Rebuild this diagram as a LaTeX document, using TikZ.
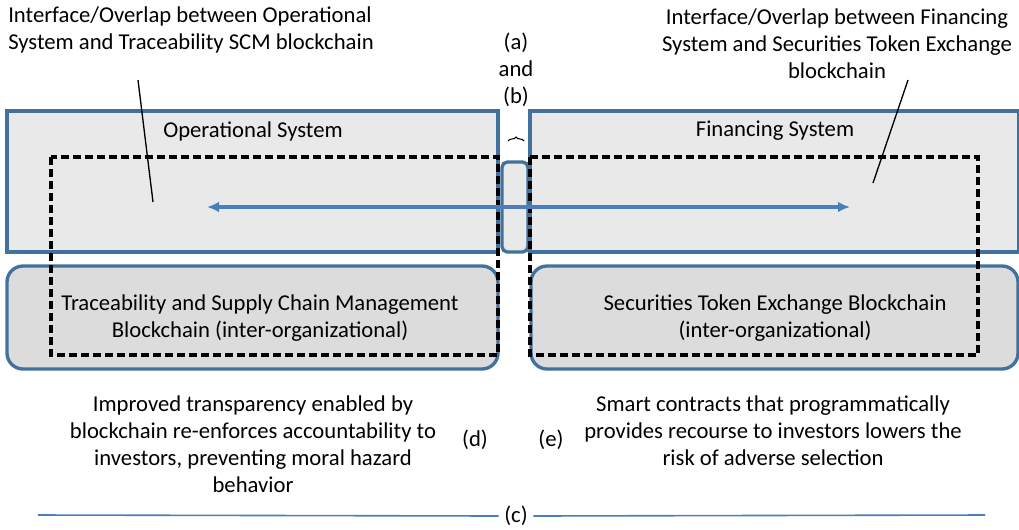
\documentclass[tikz,border=0pt]{standalone}
\usepackage{fontspec}
\setmainfont{Carlito}
\usetikzlibrary{decorations.pathreplacing,arrows.meta}
\definecolor{boxline}{HTML}{41719C}
\definecolor{sysfill}{HTML}{E9E9E9}
\definecolor{chainfill}{HTML}{DCDCDC}
\definecolor{flowblue}{HTML}{4A7EBF}
\tikzset{
  sysbox/.style={draw=boxline,fill=sysfill,line width=2.5pt},
  chainbox/.style={draw=boxline,fill=chainfill,line width=2.5pt,rounded corners=12pt},
  overlap/.style={draw=black,line width=2.4pt,dash pattern=on 6pt off 3pt},
  txt/.style={font=\fontsize{17}{20.3}\selectfont,text=black,align=center,inner sep=0pt}
}
\begin{document}
\begin{tikzpicture}[x=0.75pt,y=-0.75pt]
	\useasboundingbox[fill=white] (0,0) rectangle (1019,529);
	% system boxes
	\draw[sysbox] (7,111) rectangle (498,252);
	\draw[sysbox] (530,111) rectangle (1019,252);
	\draw[sysbox,rounded corners=4pt] (502,162) rectangle (528,252);
	% blockchain boxes
	\draw[chainbox] (7,266) rectangle (498,369);
	\draw[chainbox] (531,266) rectangle (1018,369);
	% overlap areas
	\draw[overlap] (51,157) rectangle (498,355);
	\draw[overlap] (530,157) rectangle (978,355);
	% labels inside boxes
	\node[txt] (opsys) at (253,131) {Operational System};
	\node[txt] (finsys) at (775,131) {Financing System};
	\node[txt] (scm) at (260,318) {Traceability and Supply Chain Management\\Blockchain (inter-organizational)};
	\node[txt] (ste) at (775,318) {Securities Token Exchange Blockchain\\(inter-organizational)};
	% flow between systems
	\coordinate (flowL) at (207,207);
	\coordinate (flowR) at (850,207);
	\draw[flowblue,line width=2.3pt,{Latex[length=9pt,width=8pt]}-{Latex[length=9pt,width=8pt]}] (flowL) -- (flowR);
	% interface annotations
	\node[txt,align=left,anchor=west] (ifaceL) at (8,30) {Interface/Overlap between Operational\\System and Traceability SCM blockchain};
	\node[txt] (ifaceR) at (837,44) {Interface/Overlap between Financing\\System and Securities Token Exchange\\blockchain};
	\coordinate (ptL) at (153,202);
	\coordinate (ptR) at (873,183);
	\draw[line width=1pt] (138,80) -- (ptL);
	\draw[line width=1pt] (908,80) -- (ptR);
	\node[txt] (ab) at (516,70) {(a)\\and\\(b)};
	\draw[line width=0.8pt,decorate,decoration={brace,amplitude=3pt}] (508,141) -- (524,141);
	% outcomes
	\node[txt] (left) at (253,444) {Improved transparency enabled by\\blockchain re-enforces accountability to\\investors, preventing moral hazard\\behavior};
	\node[txt] (right) at (773,431) {Smart contracts that programmatically\\provides recourse to investors lowers the\\risk of adverse selection};
	\node[txt] (d) at (475,440) {(d)};
	\node[txt] (e) at (551,440) {(e)};
	\node[txt] (c) at (516,516) {(c)};
	\draw[flowblue,line width=1.2pt] (38,515) -- ([xshift=-4pt]c.west);
	\draw[flowblue,line width=1.2pt] ([xshift=4pt]c.east) -- (985,515);
\end{tikzpicture}
\end{document}
